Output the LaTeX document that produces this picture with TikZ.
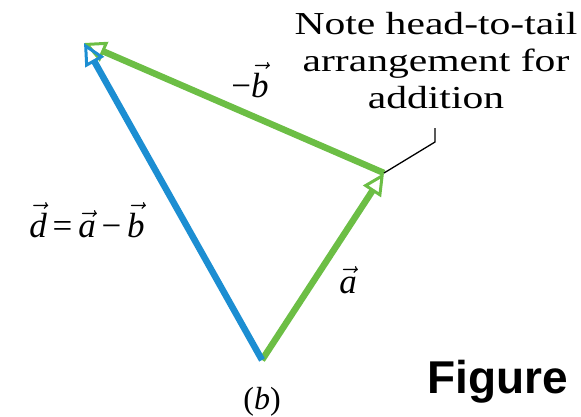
\RequirePackage{fix-cm}
\documentclass[tikz,border=0pt]{standalone}
\usepackage{amsmath}
\usepackage{fontspec}
\setmainfont{Liberation Serif}
\newfontfamily\notefont[FakeStretch=1.3]{Liberation Serif}
\newfontfamily\figfont{Liberation Sans}
\usetikzlibrary{arrows.meta}
\definecolor{vgreen}{RGB}{108,190,69}
\definecolor{vblue}{RGB}{28,142,210}
\newcommand\vl[1]{$\vec{\text{\itshape #1}}$}
\tikzset{
  vecline/.style={line width=6.5pt, -{Triangle[open, length=22pt, width=21pt, line width=3pt]}},
  lbl/.style={inner sep=0pt, font=\fontsize{35}{40}\selectfont},
}
\begin{document}
\begin{tikzpicture}[x=1pt,y=-1pt]
\useasboundingbox (0,0) rectangle (581,416);
\coordinate (O) at (262,360);
\coordinate (A) at (384,173);
\coordinate (B) at (84,43);
\coordinate (L1) at (435,142);
\coordinate (L2) at (435,128);
\draw[vecline, vgreen] (O) -- (A);
\draw[vecline, vgreen] (A) -- (B);
\draw[vecline, vblue] (O) -- (B);
\draw[line width=1.3pt] (A) -- (L1) -- (L2);
\node[align=center, inner sep=0pt, font=\notefont\fontsize{32}{37}\selectfont, anchor=base] (note) at (436,108) {Note head-to-tail\\arrangement for\\addition};
\node[lbl, anchor=base] (mb) at (250,97) {−\vl{b}};
\node[lbl, anchor=base] (eq) at (87,237) {\vl{d}\,=\,\vl{a}\,−\,\vl{b}};
\node[lbl, anchor=base] (la) at (348,293) {\vl{a}};
\node[inner sep=0pt, anchor=base, font=\fontsize{32}{36}\selectfont] (cap) at (262,409) {(\textit{b})};
\node[inner sep=0pt, anchor=base west, font=\figfont\bfseries\fontsize{46}{52}\selectfont] (fig) at (427,393) {Figure};
\end{tikzpicture}
\end{document}
